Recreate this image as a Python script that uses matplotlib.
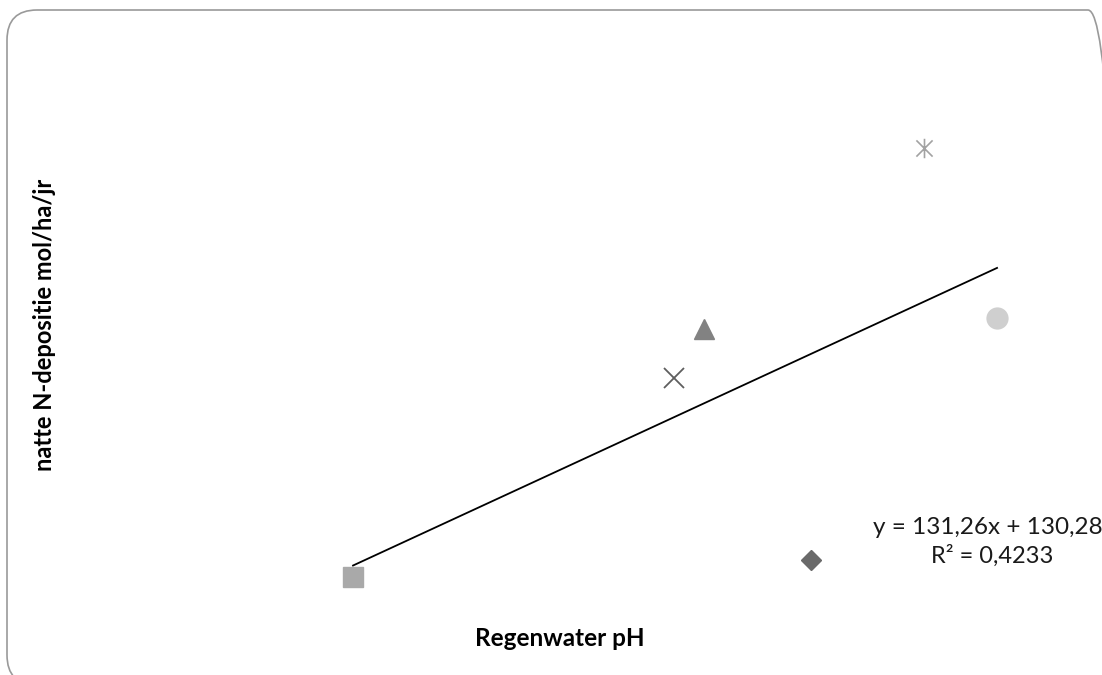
import numpy as np
import matplotlib
matplotlib.use("Agg")
import matplotlib.pyplot as plt
from matplotlib.patches import FancyBboxPatch
from matplotlib.path import Path

# meetpunten (regenwater pH vs natte N-depositie)
ph = [4.60, 5.311, 5.145, 5.098, 5.487, 5.600]
ndep = [729.0, 736.5, 838.4, 816.8, 918.3, 843.3]
markers = ['s', 'D', '^', 'x', 'star', 'o']
colors = ['#a9a9a9', '#6a6a6a', '#828282', '#5e5e5e', '#a2a2a2', '#cfcfcf']
sizes = [15, 10, 14.5, 14, 14, 15]

eq_text = "y = 131,26x + 130,28"
r2_text = "R\u00b2 = 0,4233"

# asterisk marker: X with a vertical bar
star = Path([(-1, -1), (1, 1), (-1, 1), (1, -1), (0, -1.2), (0, 1.2)],
            [Path.MOVETO, Path.LINETO, Path.MOVETO, Path.LINETO, Path.MOVETO, Path.LINETO])

plt.rcParams['font.family'] = ['Lato', 'DejaVu Sans']

fig = plt.figure(figsize=(11.02, 6.75), dpi=100)
ax = fig.add_axes([0.0866, 0.0479, 0.8766, 0.9234])
ax.set_xlim(4.2, 5.7)
ax.set_ylim(700, 975)
ax.axis('off')

for x, y, m, c, s in zip(ph, ndep, markers, colors, sizes):
	if m == 'star':
		ax.plot(x, y, marker=star, ms=s, mec=c, mfc='none', mew=1.2, ls='none')
	elif m == 'x':
		ax.plot(x, y, marker='x', ms=s, mec=c, mew=1.3, ls='none')
	else:
		ax.plot(x, y, marker=m, ms=s, color=c, mec=c, ls='none')

# lineaire trendlijn
k, b = np.polyfit(ph, ndep, 1)
xs = np.array([min(ph), max(ph)])
ax.plot(xs, k * xs + b, color='black', lw=1.3)

fig.text(873 / 1102, 1 - 528 / 675, eq_text, fontsize=17.5, ha='left', va='center', color='#1a1a1a')
fig.text(992 / 1102, 1 - 556 / 675, r2_text, fontsize=17, ha='center', va='center', color='#1a1a1a')

fig.text(560 / 1102, 1 - 638 / 675, "Regenwater pH", fontsize=17.5, fontweight='bold', ha='center', va='center')
fig.text(45 / 1102, 1 - 325 / 675, "natte N-depositie mol/ha/jr", fontsize=17, fontweight='bold',
	rotation=90, ha='center', va='center')

border = FancyBboxPatch((0.07, -0.10), 11.11, 6.75, boxstyle="round,pad=0,rounding_size=0.3",
	transform=fig.dpi_scale_trans, fill=False, ec='#9a9a9a', lw=1.2)
fig.patches.append(border)

fig.savefig("out.png", dpi=100)
